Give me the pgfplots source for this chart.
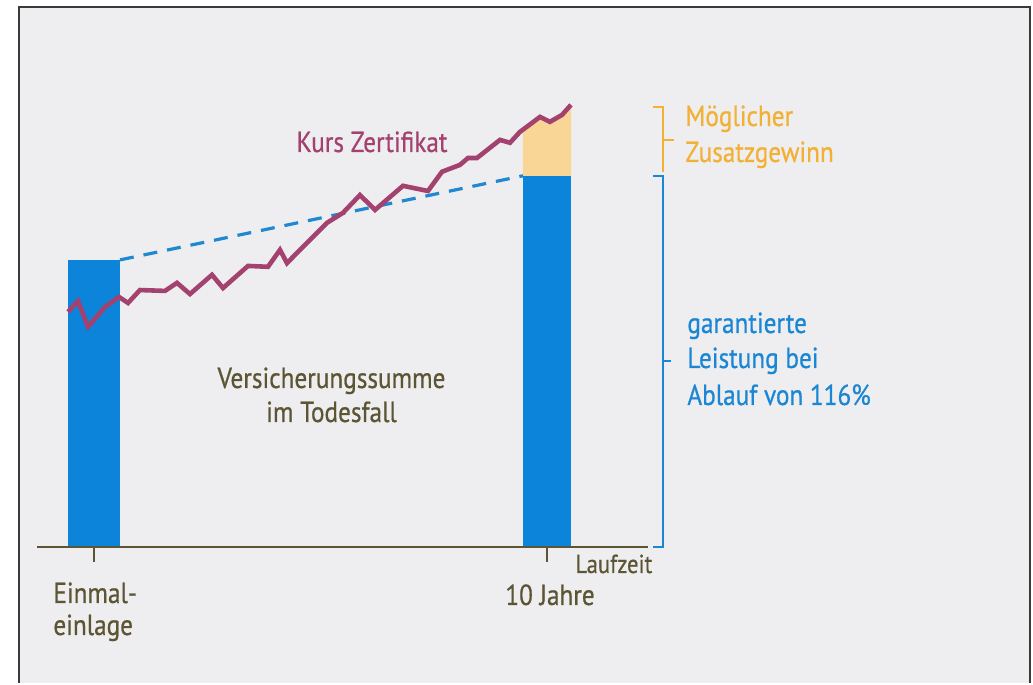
\documentclass[border=0pt]{standalone}
\usepackage{pgfplots}
\pgfplotsset{compat=1.18}
\usepackage{fontspec}
\setmainfont{PT Sans}[FakeStretch=0.87, FakeBold=0.6]
\definecolor{bgc}{HTML}{EEEEF0}
\definecolor{frame}{HTML}{3A3A3A}
\definecolor{barblue}{HTML}{0B84D9}
\definecolor{dashblue}{HTML}{1F88D0}
\definecolor{txtblue}{HTML}{1A86D4}
\definecolor{orfill}{HTML}{F9D596}
\definecolor{ortxt}{HTML}{F2B134}
\definecolor{kurs}{HTML}{A3426F}
\definecolor{olive}{HTML}{5C5534}
\begin{document}
\begin{tikzpicture}
\fontsize{14.5}{17}\selectfont
% canvas: 1 px = 0.5 pt, origin bottom-left
\path (0pt,0pt) rectangle (516.5pt,341.5pt);
\fill[bgc] (9.5pt,0pt) rectangle (515pt,338pt);
\draw[frame, line width=1.4pt] (9.5pt,0pt) -- (9.5pt,338pt) -- (515pt,338pt) -- (515pt,0pt);
\begin{axis}[
  at={(18.5pt,68pt)}, anchor=south west,
  scale only axis, width=305.5pt, height=223.5pt,
  xmin=-1.258, xmax=12.23, ymin=0, ymax=155.7,
  axis lines=none, clip=false,
]
% bars
\addplot[fill=barblue, draw=none] coordinates {(-0.574,0) (-0.574,100) (0.574,100) (0.574,0)} -- cycle;
\addplot[fill=barblue, draw=none] coordinates {(9.47,0) (9.47,129.3) (10.53,129.3) (10.53,0)} -- cycle;
% possible extra gain (orange) under the price line
\addplot[fill=orfill, draw=none] coordinates {(9.47,129.3) (9.47,145.4) (9.846,149.8) (10.066,148.1) (10.331,150.5) (10.53,154.0) (10.53,129.3)} -- cycle;
% guaranteed line (dashed)
\addplot[dashblue, line width=1.6pt, dash pattern=on 7pt off 5pt] coordinates {(0.574,100) (9.47,129.3)};
% Kurs Zertifikat
\addplot[kurs, line width=2.3pt, line join=miter, mark=none] coordinates {
(-0.574,81.9) (-0.353,85.7) (-0.132,76.7) (0.243,83.6) (0.552,87.1) (0.751,85.0)
(1.015,89.5) (1.567,89.2) (1.832,92.0) (2.119,88.1) (2.605,94.8) (2.848,90.2)
(3.400,97.9) (3.841,97.6) (4.106,103.5) (4.260,98.9) (5.143,112.9) (5.497,116.4)
(5.872,122.6) (6.203,117.4) (6.821,125.8) (7.373,124.0) (7.682,130.7) (8.079,133.1)
(8.256,135.5) (8.455,135.5) (8.962,141.8) (9.183,140.8) (9.404,144.6) (9.846,149.8)
(10.066,148.1) (10.331,150.5) (10.53,154.0)};
% x axis line and ticks
\draw[olive, line width=1.3pt] (axis cs:-1.258,0) -- (axis cs:12.23,0);
\draw[olive, line width=1pt] (axis cs:0,0) -- ++(0pt,-7.5pt);
\draw[olive, line width=1pt] (axis cs:10,0) -- ++(0pt,-7.5pt);
% brackets
\draw[txtblue, line width=1pt] (axis cs:12.34,129.3) -- (axis cs:12.56,129.3) -- (axis cs:12.56,0) -- (axis cs:12.34,0);
\draw[txtblue, line width=1pt] (axis cs:12.56,64.8) -- (axis cs:12.74,64.8);
\draw[ortxt, line width=1pt] (axis cs:12.34,153.3) -- (axis cs:12.56,153.3) -- (axis cs:12.56,130.6);
\draw[ortxt, line width=1pt] (axis cs:12.56,141.8) -- (axis cs:12.80,141.8);
\end{axis}
% texts (px -> pt: x/2, (683-y)/2)
\node[kurs, anchor=base, inner sep=0pt] at (186pt,265.5pt) {Kurs Zertifikat};
\node[ortxt, anchor=base west, inner sep=0pt] at (342.5pt,278.5pt) {Möglicher};
\node[ortxt, anchor=base west, inner sep=0pt] at (342.5pt,260.5pt) {Zusatzgewinn};
\node[txtblue, anchor=base west, inner sep=0pt] at (343.5pt,175pt) {garantierte};
\node[txtblue, anchor=base west, inner sep=0pt] at (343.5pt,157.5pt) {Leistung bei};
\node[txtblue, anchor=base west, inner sep=0pt] at (343.5pt,139pt) {Ablauf von 116\%};
\node[olive, anchor=base, inner sep=0pt] at (165.75pt,147.5pt) {Versicherungssumme};
\node[olive, anchor=base, inner sep=0pt] at (165.75pt,130.5pt) {im Todesfall};
\node[olive, anchor=base west, inner sep=0pt, font=\fontsize{13}{15}\selectfont] at (287.5pt,55pt) {Laufzeit};
\node[olive, anchor=base west, inner sep=0pt] at (252.5pt,39pt) {10 Jahre};
\node[olive, anchor=base west, inner sep=0pt] at (26.5pt,40pt) {Einmal-};
\node[olive, anchor=base west, inner sep=0pt] at (26.5pt,24pt) {einlage};
\end{tikzpicture}
\end{document}
